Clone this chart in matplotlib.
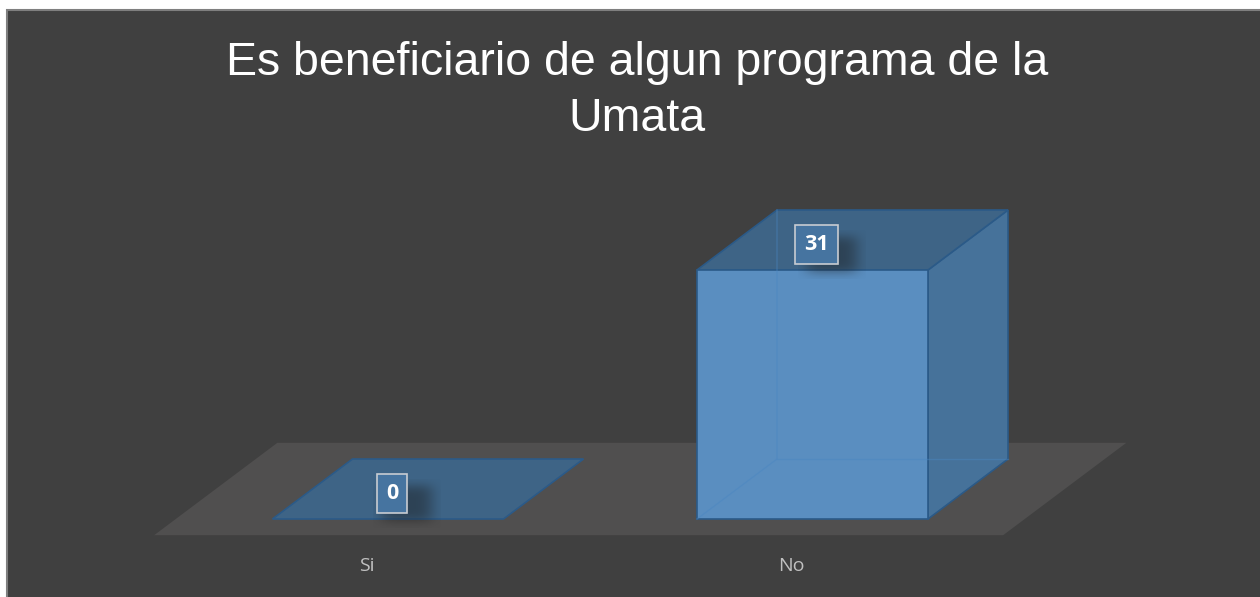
import numpy as np
import matplotlib
matplotlib.use("Agg")
import matplotlib.pyplot as plt
from matplotlib.patches import Polygon, Rectangle

# Survey answers
categories = ["Si", "No"]
counts = [0, 31]
title_lines = ["Es beneficiario de algun programa de la", "Umata"]

# Colours
BG = "#404040"
FLOOR = "#504f4f"
FRONT = "#5a8ec0"
SIDE = "#46729a"
TOP = "#3e6486"
EDGE = "#2b5a88"
HIDDEN = "#4a86c0"

W_PX, H_PX = 1260, 597
fig = plt.figure(figsize=(W_PX / 100, H_PX / 100), dpi=100, facecolor="white")
ax = fig.add_axes([0, 0, 1, 1])
ax.set_axis_off()
ax.patch.set_alpha(0)

# Layout of the 3-D plot region (pixel geometry -> data scale)
base_px = 519          # pixel row of value 0 on the front plane
px_per_unit = 249 / 31 # vertical scale
cat0_px = 388          # pixel column of first category
cat_step_px = 424.5    # pixel spacing between categories
ax.set_xlim((0 - cat0_px) / cat_step_px, (W_PX - cat0_px) / cat_step_px)
ax.set_ylim((base_px - H_PX) / px_per_unit, base_px / px_per_unit)

bar_w = 231 / cat_step_px
dx = 80 / cat_step_px   # depth offset, x
dy = 60 / px_per_unit   # depth offset, y

# Chart frame
ax.add_patch(Rectangle((7 / W_PX, -0.05), 1.2, 1 - 10 / H_PX + 0.05,
                       transform=ax.transAxes, facecolor=BG,
                       edgecolor="#7f7f7f", lw=1.5, zorder=0, clip_on=False))

# Floor
t0, t1 = -0.27, 1.27
fx0, fx1 = -0.5, len(categories) - 0.5
floor = [(fx0 + t0 * dx, t0 * dy), (fx1 + t0 * dx, t0 * dy),
         (fx1 + t1 * dx, t1 * dy), (fx0 + t1 * dx, t1 * dy)]
ax.add_patch(Polygon(floor, closed=True, facecolor=FLOOR, edgecolor="none", zorder=1))


def soft_shadow(xc, yc, wd, ht):
    """Blurred drop shadow behind a label box."""
    n = 80
    gx = np.linspace(-1, 1, n)
    X, Y = np.meshgrid(gx, gx)
    a = np.exp(-((np.abs(X) ** 4 + np.abs(Y) ** 4) * 2.5))
    img = np.zeros((n, n, 4))
    img[..., :3] = 0.1
    img[..., 3] = 0.45 * a
    ax.imshow(img, extent=(xc - wd, xc + wd, yc - ht, yc + ht),
              aspect="auto", zorder=6, interpolation="bilinear")


for i, v in enumerate(counts):
    x0, x1 = i - bar_w / 2, i + bar_w / 2
    if v > 0:
        top = [(x0, v), (x1, v), (x1 + dx, v + dy), (x0 + dx, v + dy)]
        side = [(x1, 0), (x1 + dx, dy), (x1 + dx, v + dy), (x1, v)]
        ax.add_patch(Polygon(side, closed=True, facecolor=SIDE, edgecolor=EDGE, lw=1.2, zorder=3))
        ax.add_patch(Polygon(top, closed=True, facecolor=TOP, edgecolor=EDGE, lw=1.2, zorder=3))
        ax.add_patch(Rectangle((x0, 0), bar_w, v, facecolor=FRONT, edgecolor=EDGE, lw=1.2, zorder=4))
        # back edges seen through the translucent front face
        ax.plot([x0, x0 + dx, x0 + dx], [0, dy, v + dy], color=HIDDEN, lw=1, alpha=0.45, zorder=5)
        ax.plot([x0 + dx, x1 + dx], [dy, dy], color=HIDDEN, lw=1, alpha=0.45, zorder=5)
    else:
        flat = [(x0, 0), (x1, 0), (x1 + dx, dy), (x0 + dx, dy)]
        ax.add_patch(Polygon(flat, closed=True, facecolor=TOP, edgecolor=EDGE, lw=1.2, zorder=3))

    # value label
    lx, ly = i + 0.01, v + 0.42 * dy
    soft_shadow(lx + 0.035, ly - 1.3, 0.08, 3.0)
    ax.text(lx, ly, f"{v}", ha="center", va="center", color="white",
            fontsize=15.5, fontweight="bold", family="Open Sans", zorder=7,
            bbox=dict(boxstyle="square,pad=0.42", facecolor="#4674a0",
                      edgecolor="#c8ccd2", lw=1.2))

    # category label
    ax.text(i - 0.05, -5.8, categories[i], ha="center", va="center",
            color="#c0c0c0", fontsize=14, family="Open Sans", zorder=7)

# Title, one line per baseline
for line, base in zip(title_lines, [75, 131]):
    fig.text(637 / W_PX, 1 - base / H_PX, line, ha="center", va="baseline",
             color="white", fontsize=33.5, family="Liberation Sans")

fig.savefig("out.png", dpi=100, facecolor="white")
